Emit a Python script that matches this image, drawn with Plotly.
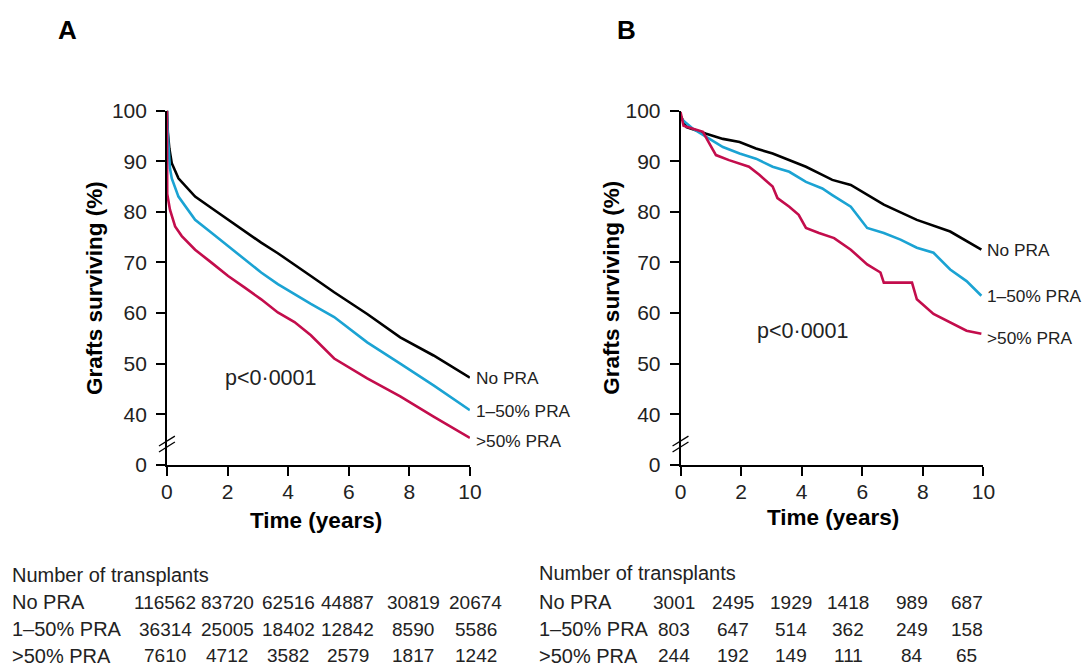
import plotly.graph_objects as go

W, H = 1088, 672
FONT = "Liberation Sans, Arial, Helvetica, sans-serif"
TXT = "#222222"

# ---------------- data ----------------
series_names = ["No PRA", "1–50% PRA", ">50% PRA"]
colors = ["#000000", "#1ba3d3", "#c30d4c"]

# Panel A (registry, all PRA)
a_nopra_t = [0, 0.03, 0.08, 0.16, 0.38, 0.93, 1.48, 2.02, 2.57, 3.11, 3.66, 4.21, 4.75, 5.52, 6.61, 7.70, 8.80, 10.0]
a_nopra_v = [100, 95.7, 92.5, 89.6, 86.6, 83.0, 80.7, 78.4, 76.1, 73.9, 71.8, 69.6, 67.3, 64.1, 59.8, 55.2, 51.6, 47.2]
a_low_t = [0, 0.03, 0.10, 0.16, 0.38, 0.93, 1.48, 2.02, 2.57, 3.11, 3.66, 4.21, 4.75, 5.52, 6.61, 7.70, 8.80, 10.0]
a_low_v = [100, 95.1, 88.6, 86.6, 83.0, 78.4, 75.8, 73.2, 70.6, 68.0, 65.7, 63.7, 61.8, 59.2, 54.2, 50.0, 45.7, 40.8]
a_high_t = [0, 0.01, 0.10, 0.27, 0.49, 0.93, 1.48, 2.02, 2.57, 3.11, 3.66, 4.21, 4.75, 5.52, 6.61, 7.70, 8.80, 10.0]
a_high_v = [100, 83.5, 80.4, 77.1, 75.2, 72.5, 69.9, 67.3, 65.0, 62.7, 60.1, 58.2, 55.6, 51.0, 47.1, 43.5, 39.5, 35.3]

# Panel B (subset)
b_nopra_t = [0, 0.2, 0.85, 1.4, 1.95, 2.49, 3.04, 3.59, 4.14, 4.68, 5.01, 5.62, 6.71, 7.8, 8.9, 9.93]
b_nopra_v = [99.0, 96.7, 95.4, 94.4, 93.8, 92.5, 91.5, 90.2, 88.9, 87.3, 86.3, 85.3, 81.4, 78.4, 76.1, 72.5]
b_low_t = [0, 0.41, 0.85, 1.4, 1.95, 2.49, 3.04, 3.59, 4.14, 4.68, 5.01, 5.62, 6.16, 6.71, 7.26, 7.8, 8.35, 8.9, 9.44, 9.93]
b_low_v = [98.5, 96.4, 94.8, 92.8, 91.5, 90.5, 88.9, 87.9, 85.9, 84.6, 83.3, 81.0, 76.8, 75.8, 74.5, 72.9, 71.9, 68.6, 66.3, 63.4]
b_high_t = [0, 0.1, 0.41, 0.74, 0.95, 1.17, 1.6, 2.26, 2.6, 3.04, 3.2, 3.59, 3.9, 4.14, 4.57, 5.07, 5.62, 6.16, 6.6, 6.71, 7.64, 7.8, 8.35, 8.9, 9.44, 9.93]
b_high_v = [99.7, 97.0, 96.4, 95.8, 93.5, 91.2, 90.2, 88.9, 87.3, 85.0, 82.7, 81.0, 79.4, 76.8, 75.8, 74.8, 72.5, 69.6, 68.0, 66.0, 66.0, 62.7, 59.8, 58.2, 56.5, 55.9]

# axis ticks (0 shown after a break, placed at position 30)
y_tickvals = [30, 40, 50, 60, 70, 80, 90, 100]
y_ticktext = ["0", "40", "50", "60", "70", "80", "90", "100"]
x_tickvals = [0, 2, 4, 6, 8, 10]

# number-at-risk tables
table_title = "Number of transplants"
a_counts = [
    [116562, 83720, 62516, 44887, 30819, 20674],
    [36314, 25005, 18402, 12842, 8590, 5586],
    [7610, 4712, 3582, 2579, 1817, 1242],
]
b_counts = [
    [3001, 2495, 1929, 1418, 989, 687],
    [803, 647, 514, 362, 249, 158],
    [244, 192, 149, 111, 84, 65],
]

# ---------------- layout helpers (target picture pixel -> paper) ----------------
# the page is photographed slightly scaled; compensate so targets land in place
SX, BX = 0.99, 3.0
SY, BY = 0.976, 8.4

def px(x):
    return ((x - BX) / SX) / W

def py(y):
    return 1 - ((y - BY) / SY) / H

A_X0, A_X1 = 165, 470
B_X0, B_X1 = 682, 987
Y_TOP, Y_BOT = 108, 466

fig = go.Figure()

panels = [
    ("x", "y", [(a_nopra_t, a_nopra_v), (a_low_t, a_low_v), (a_high_t, a_high_v)]),
    ("x2", "y2", [(b_nopra_t, b_nopra_v), (b_low_t, b_low_v), (b_high_t, b_high_v)]),
]
for xa, ya, data in panels:
    for (t, v), name, c in zip(data, series_names, colors):
        fig.add_trace(go.Scatter(
            x=t, y=v, mode="lines", name=name, xaxis=xa, yaxis=ya,
            line=dict(color=c, width=2.6), cliponaxis=False, showlegend=False,
            hoverinfo="skip",
        ))

axis_common = dict(
    showline=True, linecolor="black", linewidth=1.6, showgrid=False, zeroline=False,
    ticks="outside", ticklen=9, tickwidth=1.6, tickcolor="black",
    tickfont=dict(family=FONT, size=21, color=TXT),
)

fig.update_layout(
    width=W, height=H, margin=dict(l=0, r=0, t=0, b=0), autosize=False,
    paper_bgcolor="white", plot_bgcolor="white",
    xaxis=dict(domain=[px(A_X0), px(A_X1)], range=[0, 10], tickvals=x_tickvals, anchor="y",
               ticklabelstandoff=-2, **axis_common),
    yaxis=dict(domain=[py(Y_BOT), py(Y_TOP)], range=[30, 100], tickvals=y_tickvals, ticktext=y_ticktext,
               anchor="x", ticklabelstandoff=5, **axis_common),
    xaxis2=dict(domain=[px(B_X0), px(B_X1)], range=[0, 10], tickvals=x_tickvals, anchor="y2",
                ticklabelstandoff=-2, **axis_common),
    yaxis2=dict(domain=[py(Y_BOT), py(Y_TOP)], range=[30, 100], tickvals=y_tickvals, ticktext=y_ticktext,
                anchor="x2", ticklabelstandoff=5, **axis_common),
)

ann = []
def text(x, y, s, size, bold=False, xanchor="left", yanchor="middle", angle=0, color=TXT):
    ann.append(dict(
        x=px(x), y=py(y), xref="paper", yref="paper", text=(f"<b>{s}</b>" if bold else s),
        showarrow=False, xanchor=xanchor, yanchor=yanchor, textangle=angle,
        font=dict(family=FONT, size=size, color=color),
    ))

# panel letters
text(65, 27, "A", 26, bold=True, xanchor="center", color="black")
text(628, 27, "B", 26, bold=True, xanchor="center", color="black")

# axis titles
text(92, 287, "Grafts surviving (%)", 22.5, bold=True, xanchor="center", angle=-90, color="black")
text(613, 287, "Grafts surviving (%)", 22.5, bold=True, xanchor="center", angle=-90, color="black")
text(315, 522, "Time (years)", 22.5, bold=True, xanchor="center", color="black")
text(836, 519, "Time (years)", 22.5, bold=True, xanchor="center", color="black")

# p-values
text(221, 378, "p<0·0001", 21.5)
text(757, 331, "p<0·0001", 21.5)

# curve end labels
for xa, ya, data, shifts in [("x", "y", [(a_nopra_t, a_nopra_v), (a_low_t, a_low_v), (a_high_t, a_high_v)], [0, -1, -3]),
                             ("x2", "y2", [(b_nopra_t, b_nopra_v), (b_low_t, b_low_v), (b_high_t, b_high_v)], [0, 0, -4])]:
    for (t, v), name, ys in zip(data, series_names, shifts):
        ann.append(dict(
            x=t[-1], y=v[-1], xref=xa, yref=ya, text=name, showarrow=False,
            xanchor="left", yanchor="middle", xshift=4, yshift=ys,
            font=dict(family=FONT, size=17.3, color=TXT),
        ))

# number-at-risk tables
a_cols = [163.5, 225.5, 287, 347, 413, 476]
b_cols = [675, 735, 793, 851, 915, 970]
row_y = [605, 632, 659]
for x0, cols, counts, ty in [(7, a_cols, a_counts, 577), (538, b_cols, b_counts, 575)]:
    text(x0, ty, table_title, 20)
    for r, (name, row) in enumerate(zip(series_names, counts)):
        text(x0, row_y[r], name, 20)
        for cx, n in zip(cols, row):
            text(cx, row_y[r], str(n), 19, xanchor="center")

fig.update_layout(annotations=ann)

# axis break marks on the y axes
shapes = []
for ax in (A_X0, B_X0):
    for dy in (0, 6):
        shapes.append(dict(
            type="line", xref="paper", yref="paper",
            x0=px(ax - 8), y0=py(450 + dy - 3), x1=px(ax + 8), y1=py(440 + dy - 3),
            line=dict(color="black", width=1.3),
        ))
fig.update_layout(shapes=shapes)

fig.write_html("out.html")
